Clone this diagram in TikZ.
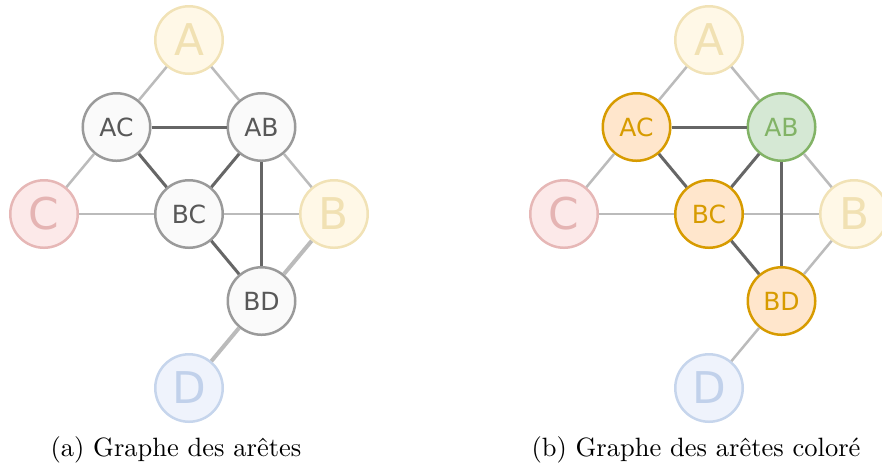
\documentclass[tikz,border=0pt]{standalone}
\usepackage{fontspec}
\usepackage{tikz}
\usetikzlibrary{positioning}
\newfontfamily\edgfont{DejaVu Sans}
\definecolor{linefill}{HTML}{FAFAFA}
\definecolor{linedraw}{HTML}{9A9A9A}
\definecolor{linetext}{HTML}{585858}
\definecolor{yelfill}{HTML}{FFF8E7}
\definecolor{yeldraw}{HTML}{F1E2B6}
\definecolor{yeltext}{HTML}{F1E1B3}
\definecolor{redfill}{HTML}{FCE9E9}
\definecolor{reddraw}{HTML}{E6B7B6}
\definecolor{redtext}{HTML}{E5B4B3}
\definecolor{blufill}{HTML}{EFF3FC}
\definecolor{bludraw}{HTML}{C6D5EC}
\definecolor{blutext}{HTML}{C1D1EB}
\definecolor{orfill}{HTML}{FFE6CC}
\definecolor{ordraw}{HTML}{D79B00}
\definecolor{grfill}{HTML}{D5E8D4}
\definecolor{grdraw}{HTML}{82B366}
\definecolor{edgelight}{HTML}{BBBBBB}
\definecolor{edgedark}{HTML}{666666}

\begin{document}
\begin{tikzpicture}[
  node distance=34.8pt and 29pt, on grid,
  round/.style={
    circle, draw, line width=1pt, minimum size=27pt, inner sep=0pt
  },
  vtx/.style={round, font=\edgfont\fontsize{17.5}{18}\selectfont},
  edg/.style={round, font=\edgfont\fontsize{10}{10}\selectfont},
  yel/.style={vtx, fill=yelfill, draw=yeldraw, text=yeltext},
  red/.style={vtx, fill=redfill, draw=reddraw, text=redtext},
  blu/.style={vtx, fill=blufill, draw=bludraw, text=blutext},
  plain/.style={edg, fill=linefill, draw=linedraw, text=linetext},
  orng/.style={edg, fill=orfill, draw=ordraw, text=ordraw},
  grn/.style={edg, fill=grfill, draw=grdraw, text=grdraw},
  light/.style={draw=edgelight, line width=1pt},
  dark/.style={draw=edgedark, line width=1.2pt},
  subcap/.style={font=\fontsize{10.6}{12}\selectfont}
]
\useasboundingbox (-75.6pt,16pt) rectangle (277.2pt,-170pt);

% (a) line graph
\node (a1) [yel] at (0,0) {A};
\node (ac1) [plain, below left=of a1] {AC};
\node (ab1) [plain, below right=of a1] {AB};
\node (c1) [red, below left=of ac1] {C};
\node (bc1) [plain, below right=of ac1] {BC};
\node (b1) [yel, below right=of ab1] {B};
\node (bd1) [plain, below right=of bc1] {BD};
\node (d1) [blu, below left=of bd1] {D};

\draw[light] (a1) -- (ac1);
\draw[light] (a1) -- (ab1);
\draw[light] (c1) -- (ac1);
\draw[light] (c1) -- (bc1);
\draw[light] (b1) -- (ab1);
\draw[light] (b1) -- (bc1);
\draw[light, line width=1.6pt] (b1) -- (bd1);
\draw[light, line width=1.6pt] (d1) -- (bd1);
\draw[dark] (ac1) -- (ab1);
\draw[dark] (ac1) -- (bc1);
\draw[dark] (ab1) -- (bc1);
\draw[dark] (ab1) -- (bd1);
\draw[dark] (bc1) -- (bd1);

\node (cap1) [subcap] at (-5.2pt,-164pt) {(a) Graphe des arêtes};

% (b) coloured line graph
\node (a2) [yel] at (208pt,0) {A};
\node (ac2) [orng, below left=of a2] {AC};
\node (ab2) [grn, below right=of a2] {AB};
\node (c2) [red, below left=of ac2] {C};
\node (bc2) [orng, below right=of ac2] {BC};
\node (b2) [yel, below right=of ab2] {B};
\node (bd2) [orng, below right=of bc2] {BD};
\node (d2) [blu, below left=of bd2] {D};

\draw[light] (a2) -- (ac2);
\draw[light] (a2) -- (ab2);
\draw[light] (c2) -- (ac2);
\draw[light] (c2) -- (bc2);
\draw[light] (b2) -- (ab2);
\draw[light] (b2) -- (bc2);
\draw[light] (b2) -- (bd2);
\draw[light] (d2) -- (bd2);
\draw[dark] (ac2) -- (ab2);
\draw[dark] (ac2) -- (bc2);
\draw[dark] (ab2) -- (bc2);
\draw[dark] (ab2) -- (bd2);
\draw[dark] (bc2) -- (bd2);

\node (cap2) [subcap] at (202.8pt,-164pt) {(b) Graphe des arêtes coloré};
\end{tikzpicture}
\end{document}
